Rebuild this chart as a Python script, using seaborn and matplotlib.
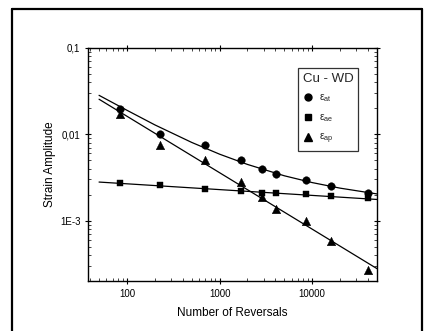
import numpy as np
import pandas as pd
import matplotlib
matplotlib.use("Agg")
import matplotlib.pyplot as plt
import seaborn as sns
from matplotlib.lines import Line2D
from matplotlib.ticker import FixedLocator, LogLocator, NullFormatter, FixedFormatter

# ---- data ----
reversals = [84, 230, 700, 1700, 2900, 4100, 8500, 16000, 40000]
eps_at = [0.0199, 0.0100, 0.00746, 0.0050, 0.00398, 0.00348, 0.00299, 0.00249, 0.00211]
eps_ae = [0.00273, 0.00256, 0.00232, 0.00219, 0.00211, 0.00211, 0.00202, 0.00191, 0.00181]
eps_ap = [0.0174, 0.00746, 0.0051, 0.0028, 0.00188, 0.00138, 0.0010, 0.00058, 0.000265]

# fitted lines (vertices)
fit_n_straight = [50, 50000]
fit_ae = [0.00280, 0.00176]
fit_ap = [0.0255, 0.000278]
fit_n_total = [50, 100, 200, 500, 1000, 2000, 5000, 10000, 20000, 50000]
fit_at = [0.0283, 0.0190, 0.01287, 0.00806, 0.00589, 0.00448, 0.00331, 0.00276, 0.00238, 0.00204]

x_ticks = [100, 1000, 10000]
x_labels = ["100", "1000", "10000"]
y_ticks = [0.001, 0.01, 0.1]
y_labels = ["1E-3", "0,01", "0,1"]

sns.set_theme(style="white")
plt.rcParams['font.family'] = ['Liberation Sans', 'DejaVu Sans']
plt.rcParams['mathtext.fontset'] = 'custom'
plt.rcParams['mathtext.rm'] = 'Liberation Sans'
plt.rcParams['mathtext.it'] = 'Liberation Sans'

fig = plt.figure(figsize=(4.26, 3.31), dpi=100)
fig.patch.set_facecolor('white')
ax = fig.add_axes([88/426, 1-281/331, 289/426, 233/331])

pts = pd.DataFrame({
    "N": reversals * 3,
    "eps": eps_at + eps_ae + eps_ap,
    "series": ["at"] * len(reversals) + ["ae"] * len(reversals) + ["ap"] * len(reversals),
})
lines = pd.concat([
    pd.DataFrame({"N": fit_n_total, "eps": fit_at, "series": "at"}),
    pd.DataFrame({"N": fit_n_straight, "eps": fit_ae, "series": "ae"}),
    pd.DataFrame({"N": fit_n_straight, "eps": fit_ap, "series": "ap"}),
])

for s in ["at", "ae", "ap"]:
    d = lines[lines.series == s]
    sns.lineplot(data=d, x="N", y="eps", ax=ax, color="black", lw=0.9,
                 sort=False, estimator=None, legend=False)

marker_map = {"at": "o", "ae": "s", "ap": "^"}
size_map = {"at": 30, "ae": 24, "ap": 38}
for s in ["at", "ae", "ap"]:
    d = pts[pts.series == s]
    sns.scatterplot(data=d, x="N", y="eps", ax=ax, marker=marker_map[s],
                    s=size_map[s], color="black", edgecolor="black", linewidth=0.3,
                    legend=False, zorder=3)

ax.set_xscale("log")
ax.set_yscale("log")
ax.set_xlim(38, 50000)
ax.set_ylim(2e-4, 0.1)

ax.xaxis.set_major_locator(FixedLocator(x_ticks))
ax.xaxis.set_major_formatter(FixedFormatter(x_labels))
ax.yaxis.set_major_locator(FixedLocator(y_ticks))
ax.yaxis.set_major_formatter(FixedFormatter(y_labels))
ax.xaxis.set_minor_locator(LogLocator(base=10, subs=np.arange(2, 10)))
ax.yaxis.set_minor_locator(LogLocator(base=10, subs=np.arange(2, 10)))
ax.xaxis.set_minor_formatter(NullFormatter())
ax.yaxis.set_minor_formatter(NullFormatter())

ax.tick_params(which="major", direction="inout", length=5, width=0.8, labelsize=7,
               top=True, right=True, bottom=True, left=True, pad=3, colors="black")
ax.tick_params(which="minor", direction="in", length=2.5, width=0.6,
               top=True, right=True, bottom=True, left=True)
for sp in ax.spines.values():
    sp.set_color("black")
    sp.set_linewidth(1.0)

ax.set_xlabel("Number of Reversals", fontsize=8.5, labelpad=6, color="black")
ax.set_ylabel("Strain Amplitude", fontsize=8.5, labelpad=3, color="black")

handles = [
    Line2D([], [], marker="o", color="black", ls="none", markersize=5),
    Line2D([], [], marker="s", color="black", ls="none", markersize=4.5),
    Line2D([], [], marker="^", color="black", ls="none", markersize=5.5),
]
labels = ["ε$_{\\rm at}$", "ε$_{\\rm ae}$", "ε$_{\\rm ap}$"]
leg = ax.legend(handles, labels, title="Cu - WD", loc="upper left",
                bbox_to_anchor=(0.727, 0.914), borderaxespad=0, fontsize=7.5,
                title_fontsize=9.5, frameon=True, fancybox=False, edgecolor="black",
                handlelength=1.0, handletextpad=0.6, labelspacing=0.75, borderpad=0.45)
leg.get_frame().set_linewidth(0.9)
leg._legend_box.align = "left"

# outer frame
fig.add_artist(Line2D([12/426, 12/426], [0, 1-9/331], transform=fig.transFigure, color="black", lw=1.6))
fig.add_artist(Line2D([12/426, 422/426], [1-9/331, 1-9/331], transform=fig.transFigure, color="black", lw=1.6))
fig.add_artist(Line2D([422/426, 422/426], [0, 1-9/331], transform=fig.transFigure, color="black", lw=1.6))

fig.savefig("out.png", dpi=100)
